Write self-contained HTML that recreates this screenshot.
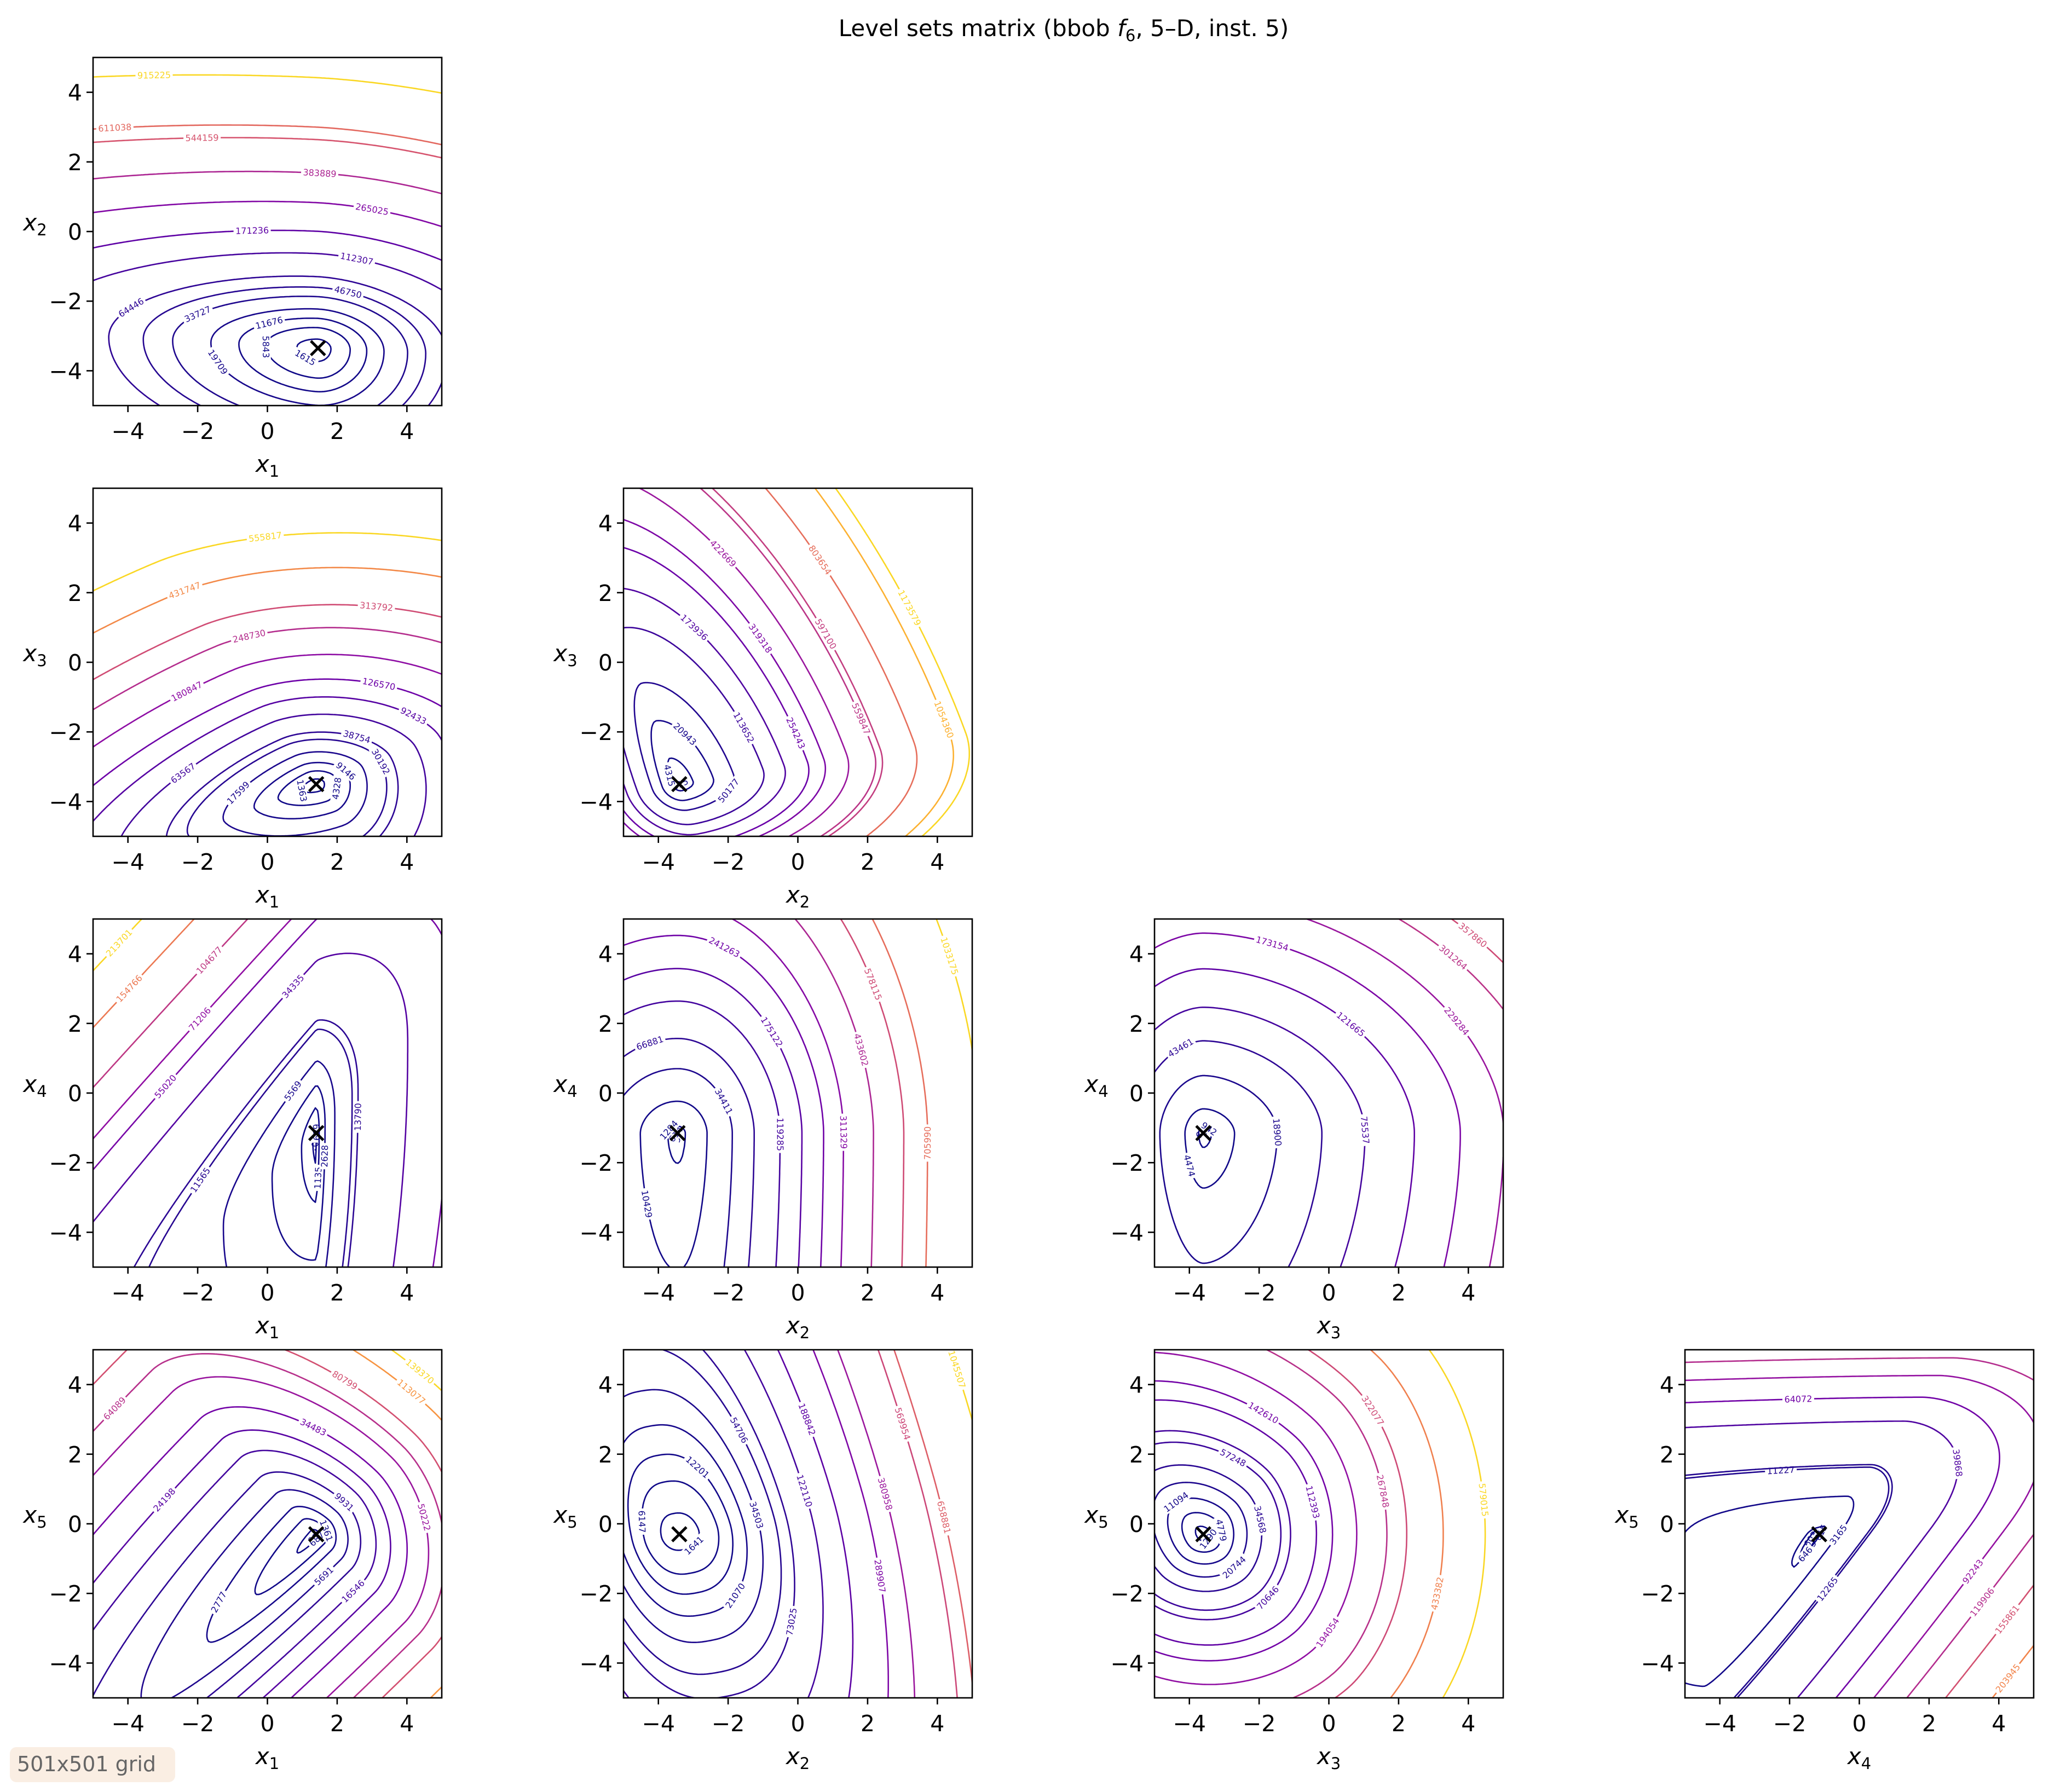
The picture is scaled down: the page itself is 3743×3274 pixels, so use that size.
<!DOCTYPE html>
<html><head><meta charset="utf-8"><style>
html,body{margin:0;padding:0;background:#fff;}
svg{display:block;font-family:"DejaVu Sans","Liberation Sans",sans-serif;}
</style></head><body>
<svg id="fig" width="3743" height="3274" viewBox="0 0 3743 3274" xmlns="http://www.w3.org/2000/svg">
<rect width="3743" height="3274" fill="#fff"/>
<text x="1943" y="66" font-size="42" text-anchor="middle">Level sets matrix (bbob <tspan font-style="italic">f</tspan><tspan font-size="29" dy="9">6</tspan><tspan dy="-9">, 5–D, inst. 5)</tspan></text>
<g>
<rect x="18" y="3192" width="302" height="64" rx="12" fill="#faeee3"/>
<text x="31" y="3236" font-size="38" fill="#666">501x501 grid</text>
</g>
</svg>
<script>
// ---- data ----
const ticks = [-4, -2, 0, 2, 4];
const tickLabels = ["\u22124", "\u22122", "0", "2", "4"];
const panelVars = [[1,2],[1,3],[2,3],[1,4],[2,4],[3,4],[1,5],[2,5],[3,5],[4,5]];
const optima = [[1.45,-3.35],[1.4,-3.5],[-3.4,-3.5],[1.4,-1.15],[-3.45,-1.15],[-3.6,-1.15],[1.4,-0.3],[-3.4,-0.3],[-3.6,-0.3],[-1.15,-0.3]];
const levels12 = [1615,5843,11676,19709,33727,46750,64446,112307,171236,265025,383889,544159,611038,915225];
const levels13 = [1363,4328,9146,17599,30192,38754,63567,92433,126570,180847,248730,313792,431747,555817];
const levels23 = [615,4315,20943,50177,113652,173936,254243,319318,422669,559847,597100,803654,1054360,1173579];
const levels14 = [595,630,689,1135,2628,5569,11565,13790,34335,55020,71206,104677,154766,213701];
const levels24 = [595,614,1284,10429,34411,66881,119285,175122,241263,311329,433602,578115,705990,1033175];
const levels34 = [595,614,942,4474,18900,43461,75537,121665,173154,229284,301264,357860,540426,640247];
const levels15 = [607,687,1361,2777,5691,9931,16546,24198,34483,50222,64089,80799,113077,139370];
const levels25 = [1641,6147,12201,21070,34503,54706,73025,122110,188842,289907,380958,569954,658881,1045507];
const levels35 = [1290,4779,11094,20744,34568,57248,70646,112393,142610,194054,267848,322077,433382,579015];
const levels45 = [593,603,615,646,3165,11227,12265,39868,64072,92243,119906,155861,203945,268384];
const panelLevels = [levels12,levels13,levels23,levels14,levels24,levels34,levels15,levels25,levels35,levels45];
// landscape shape model per panel: [dir1(deg), d1+, d1-, p1, dir2(deg), d2+, d2-, p2, reference level]
const shapeModels = [
 [0,3.7,6.0,1.8, 87,2.05,3.0,2.0, 64446],
 [35,2.95,6.0,1.7, 112,2.12,3.0,1.7, 63567],
 [20,2.4,1.2,1.9, 100,4.7,1.2,1.9, 113652],
 [0,1.2,6,1.2, 135,2.28,6,2.2, 13790],
 [0,1.57,1.98,2.0, 90,1.85,8,1.75, 34411],
 [0,3.4,2.0,1.8, 90,2.65,6,1.8, 43461],
 [135,4.7,2.9,1.8, 45,2.5,20,1.8, 34483],
 [15,2.75,2.5,2.5, 100,5.5,4.1,1.8, 54706],
 [45,2.6,2.5,1.8, -45,2.6,3.5,1.8, 70646],
 [-37,1.15,8,1.6, 90,2.0,8,2.5, 12265]
];
const fOpt = 590;

// ---- layout ----
const NS = "http://www.w3.org/2000/svg";
const svg = document.getElementById('fig');
const colLeft = [170, 1139, 2109, 3078];
const rowTop = [105, 892, 1679, 2466];
const W = 637, H = 636;
const plasma = ["#0d0887","#41049d","#6a00a8","#8f0da4","#b12a90","#cc4778","#e16462","#f2844b","#fca636","#fcce25","#f0f921"];
function hex(c){return [parseInt(c.slice(1,3),16),parseInt(c.slice(3,5),16),parseInt(c.slice(5,7),16)];}
function cmap(t){t=Math.max(0,Math.min(1,t))*10;const i=Math.min(9,Math.floor(t)),f=t-i;const a=hex(plasma[i]),b=hex(plasma[i+1]);
 return 'rgb('+a.map((v,k)=>Math.round(v+(b[k]-v)*f)).join(',')+')';}
function el(tag, attrs, parent){const e=document.createElementNS(NS,tag);for(const k in attrs)e.setAttribute(k,attrs[k]);parent.appendChild(e);return e;}

panelVars.forEach((pv, p) => {
  const row = pv[1]-2, col = pv[0]-1;
  const L = colLeft[col], T = rowTop[row];
  const sx = v => L + (v + 5) / 10 * W;
  const sy = v => T + H - (v + 5) / 10 * H;
  const g = el('g', {}, svg);
  
  
  const cid = 'clip' + p;
  const cp = el('clipPath', {id: cid}, g);
  el('rect', {x: L, y: T, width: W, height: H}, cp);
  const m = shapeModels[p], o = optima[p];
  const a1 = m[0]*Math.PI/180, a2 = m[4]*Math.PI/180;
  const c1 = Math.cos(a1), s1 = Math.sin(a1), c2 = Math.cos(a2), s2 = Math.sin(a2);
  function f(x, y) {
    const dx = x - o[0], dy = y - o[1];
    const z1 = c1*dx + s1*dy, z2 = c2*dx + s2*dy;
    const q1 = Math.abs(z1 / (z1 > 0 ? m[1] : m[2])), q2 = Math.abs(z2 / (z2 > 0 ? m[5] : m[6]));
    return fOpt + (m[8] - fOpt) * (Math.pow(q1, m[3]) + Math.pow(q2, m[7]));
  }
  const N = 161, step = 10 / (N - 1);
  const grid = [];
  for (let j = 0; j < N; j++) { const r = []; for (let i = 0; i < N; i++) r.push(f(-5 + i*step, -5 + j*step)); grid.push(r); }
  const lv = panelLevels[p];
  const lmin = lv[0], lmax = lv[lv.length-1];
  const cg = el('g', {'clip-path': 'url(#' + cid + ')'}, g);
  
  
  lv.forEach((level, li) => {
    const color = cmap((level - lmin) / (lmax - lmin) * 0.92);
    let d = ''; const segs = [];
    for (let j = 0; j < N-1; j++) for (let i = 0; i < N-1; i++) {
      const v = [grid[j][i], grid[j][i+1], grid[j+1][i+1], grid[j+1][i]];
      const px = [[i,j],[i+1,j],[i+1,j+1],[i,j+1]];
      const pts = [];
      for (let e = 0; e < 4; e++) {
        const a = v[e], b = v[(e+1)%4];
        if ((a < level) !== (b < level)) {
          const t = (level - a) / (b - a);
          const P = px[e], Q = px[(e+1)%4];
          pts.push([-5 + (P[0] + (Q[0]-P[0])*t)*step, -5 + (P[1] + (Q[1]-P[1])*t)*step]);
        }
      }
      for (let k = 0; k + 1 < pts.length; k += 2) {
        const A = pts[k], B = pts[k+1];
        d += 'M' + sx(A[0]).toFixed(1) + ' ' + sy(A[1]).toFixed(1) + 'L' + sx(B[0]).toFixed(1) + ' ' + sy(B[1]).toFixed(1);
        segs.push([A, B]);
      }
    }
    if (!d) return;
    const path = el('path', {d: d, fill: 'none', stroke: color, 'stroke-width': 2.6, 'stroke-linecap': 'round'}, cg);
    
    
    const inner = segs.filter(s => Math.abs(s[0][0]) < 4.6 && Math.abs(s[0][1]) < 4.6);
    if (inner.length) {
      const s = inner[Math.floor(inner.length * ((li % 3) * 0.25 + 0.3))] || inner[0];
      const X = sx(s[0][0]), Y = sy(s[0][1]);
      let ang = Math.atan2(sy(s[1][1]) - sy(s[0][1]), sx(s[1][0]) - sx(s[0][0])) * 180 / Math.PI;
      if (ang > 90) ang -= 180; if (ang < -90) ang += 180;
      const lg = el('g', {transform: 'translate(' + X.toFixed(1) + ',' + Y.toFixed(1) + ') rotate(' + ang.toFixed(1) + ')'}, cg);
      
      
      const txt = String(level);
      el('rect', {x: -txt.length*5-4, y: -9, width: txt.length*10+8, height: 18, fill: '#fff'}, lg);
      const t = el('text', {x: 0, y: 5.5, 'font-size': 16, 'text-anchor': 'middle', fill: color}, lg);
      t.textContent = txt;
    }
  });
  const mk = el('g', {stroke: '#000', 'stroke-width': 5}, g);
  
  
  const ox = sx(o[0]), oy = sy(o[1]);
  el('line', {x1: ox-13, y1: oy-13, x2: ox+13, y2: oy+13}, mk);
  el('line', {x1: ox-13, y1: oy+13, x2: ox+13, y2: oy-13}, mk);
  const fr = el('rect', {x: L, y: T, width: W, height: H, fill: 'none', stroke: '#000', 'stroke-width': 2.6}, g);
  
  
  ticks.forEach((tv, ti) => {
    const X = sx(tv), Y = sy(tv);
    el('line', {x1: X, y1: T+H, x2: X, y2: T+H+12, stroke: '#000', 'stroke-width': 2.6}, g);
    const xt = el('text', {x: X, y: T+H+61, 'font-size': 41, 'text-anchor': 'middle'}, g);
    
    
    xt.textContent = tickLabels[ti];
    el('line', {x1: L-12, y1: Y, x2: L, y2: Y, stroke: '#000', 'stroke-width': 2.6}, g);
    const yt = el('text', {x: L-20, y: Y+15, 'font-size': 41, 'text-anchor': 'end'}, g);
    
    
    yt.textContent = tickLabels[ti];
  });
  const xl = el('text', {x: L + W/2, y: T+H+121, 'font-size': 42, 'text-anchor': 'middle'}, g);
  
  
  xl.innerHTML = '<tspan font-style="italic">x</tspan><tspan font-size="29" dy="9">' + pv[0] + '</tspan>';
  const yl = el('text', {x: L - 106, y: T + H/2 - 2, 'font-size': 42, 'text-anchor': 'middle'}, g);
  
  
  yl.innerHTML = '<tspan font-style="italic">x</tspan><tspan font-size="29" dy="9">' + pv[1] + '</tspan>';
});
</script>
</body></html>
